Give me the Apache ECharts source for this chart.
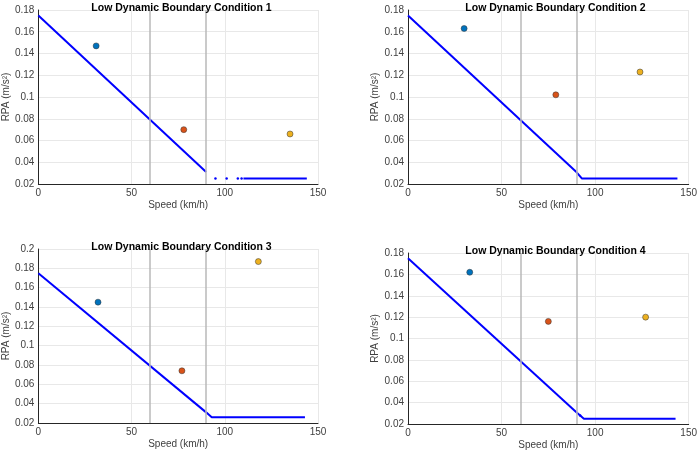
<!DOCTYPE html><html><head><meta charset="utf-8"><script src="https://cdn.jsdelivr.net/npm/echarts@6/dist/echarts.min.js"></script></head><body style="margin:0;background:#fff"><div id="c" style="width:700px;height:451px"></div><script>
const titles=["Low Dynamic Boundary Condition 1","Low Dynamic Boundary Condition 2","Low Dynamic Boundary Condition 3","Low Dynamic Boundary Condition 4"];
const pointSpeeds=[[31,78,135],[30,79,124],[32,77,118],[33,75,127]];
const pointRPA=[[0.147,0.070,0.066],[0.163,0.102,0.123],[0.145,0.074,0.187],[0.162,0.116,0.120]];
const pointColors=["#0072BD","#D95319","#EDB120"];
const yMax=[0.18,0.18,0.2,0.18];
const slopeLine=[[0,0.175],[90,0.031]];
const flatLines=[[[110,0.025],[144,0.025]],[[90,0.031],[93,0.025],[144,0.025]],[[90,0.031],[93,0.026],[143,0.026]],[[90,0.031],[94,0.025],[143,0.025]]];
const extraDots=[[[95,0.025],[101,0.025],[107,0.025],[109,0.025]],[],[],[[92,0.028]]];
const vLines=[60,90];
const grids=[{left:35,width:283,top:10,height:174},{left:408,width:285,top:10,height:174},{left:35,width:283,top:249,height:174},{left:408,width:285,top:253,height:174}];
const ax={color:'#404040',fontSize:10,fontFamily:'Liberation Sans'};
const opt={animation:false,title:[],grid:grids,xAxis:[],yAxis:[],series:[]};
for(let i=0;i<4;i++){
 const g=grids[i];
 opt.title.push({text:titles[i],left:g.left+g.width/2,top:g.top-12,textAlign:'center',textStyle:{fontSize:10.5,fontWeight:'bold',color:'#000',fontFamily:'Liberation Sans'}});
 opt.xAxis.push({gridIndex:i,type:'value',min:0,max:150,interval:50,name:'Speed (km/h)',nameLocation:'middle',nameGap:16,nameTextStyle:ax,axisLabel:Object.assign({margin:4},ax),axisLine:{lineStyle:{color:'#262626'}},axisTick:{show:false},splitLine:{lineStyle:{color:'#e8e8e8'}}});
 opt.yAxis.push({gridIndex:i,type:'value',min:0.02,max:yMax[i],interval:0.02,name:'RPA (m/s²)',nameLocation:'middle',nameGap:26,nameTextStyle:ax,axisLabel:Object.assign({margin:4,formatter:v=>+v.toFixed(2)+''},ax),axisLine:{show:true,lineStyle:{color:'#262626'}},axisTick:{show:false},splitLine:{lineStyle:{color:'#e8e8e8'}}});
 opt.series.push({type:'line',xAxisIndex:i,yAxisIndex:i,data:slopeLine,symbol:'none',lineStyle:{color:'#0000ff',width:2},markLine:{silent:true,symbol:'none',label:{show:false},lineStyle:{color:'#b8b8b8',width:1.5,type:'solid'},data:vLines.map(v=>({xAxis:v}))}});
 opt.series.push({type:'line',xAxisIndex:i,yAxisIndex:i,data:flatLines[i],symbol:'none',lineStyle:{color:'#0000ff',width:2}});
 opt.series.push({type:'scatter',xAxisIndex:i,yAxisIndex:i,data:extraDots[i],symbolSize:2.5,itemStyle:{color:'#0000ff',opacity:1}});
 opt.series.push({type:'scatter',xAxisIndex:i,yAxisIndex:i,data:pointSpeeds[i].map((s,k)=>({value:[s,pointRPA[i][k]],itemStyle:{color:pointColors[k]}})),symbolSize:6,itemStyle:{borderColor:'#333',borderWidth:0.5,opacity:1}});
}
echarts.init(document.getElementById('c')).setOption(opt);
</script></body></html>
